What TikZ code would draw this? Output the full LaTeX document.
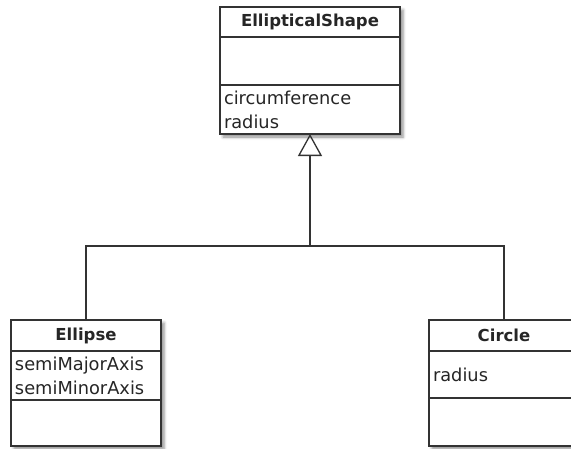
\documentclass[tikz,border=0pt]{standalone}
\usepackage{fontspec}
\setmainfont{DejaVu Sans}
\usepackage{tikz}
\usetikzlibrary{positioning,arrows.meta,fit,backgrounds,shadows.blur}

\begin{document}
\begin{tikzpicture}[x=1pt, y=-1pt,
    every node/.style={font=\fontsize{17.8}{24}\selectfont, text=black!85},
    umlpart/.style={draw=black!80, line width=1.3pt, fill=white, inner xsep=4pt, inner ysep=0pt,
                    outer sep=0pt, text width=#1, align=left},
    umlhead/.style={umlpart=#1, align=center, minimum height=30pt,
                    font=\bfseries\fontsize{16.5}{20}\selectfont},
    umlshadow/.style={fit=#1, inner sep=0pt, fill=white,
                      blur shadow={shadow xshift=3pt, shadow yshift=-3pt, shadow blur radius=3pt, shadow opacity=45}},
    inherit/.style={draw=black!80, line width=1.3pt, -{Triangle[open, length=22pt, width=24pt]}}]
   % Frame of the picture
   \useasboundingbox (0,0) rectangle (571,448);

   % Superclass
   \node[umlhead=172pt] (shape) at (310,22) {EllipticalShape};
   \node[umlpart=172pt, minimum height=48pt, below=0pt of shape] (shapeops) {};
   \node[umlpart=172pt, minimum height=49pt, below=0pt of shapeops] (shapeattr) {circumference\\radius};

   % Subclasses
   \node[umlhead=142pt, minimum height=31pt] (ellipse) at (86,335.5) {Ellipse};
   \node[umlpart=142pt, minimum height=49pt, below=0pt of ellipse] (ellipseattr) {semiMajorAxis\\semiMinorAxis};
   \node[umlpart=142pt, minimum height=46pt, below=0pt of ellipseattr] (ellipseops) {};

   \node[umlhead=142pt, minimum height=31pt] (circle) at (504,335.5) {Circle};
   \node[umlpart=142pt, minimum height=47pt, below=0pt of circle] (circleattr) {radius};
   \node[umlpart=142pt, minimum height=48pt, below=0pt of circleattr] (circleops) {};

   % Shadows behind the boxes
   \begin{scope}[on background layer]
     \node[umlshadow={(shape)(shapeattr)}] (shapebox) {};
     \node[umlshadow={(ellipse)(ellipseops)}] (ellipsebox) {};
     \node[umlshadow={(circle)(circleops)}] (circlebox) {};
   \end{scope}

   % Generalization
   \coordinate (joint) at (310,246);
   \draw[inherit] (ellipse.north) |- (joint) -- (shapeattr.south);
   \draw[draw=black!80, line width=1.3pt] (circle.north) |- (joint);
\end{tikzpicture}
\end{document}
